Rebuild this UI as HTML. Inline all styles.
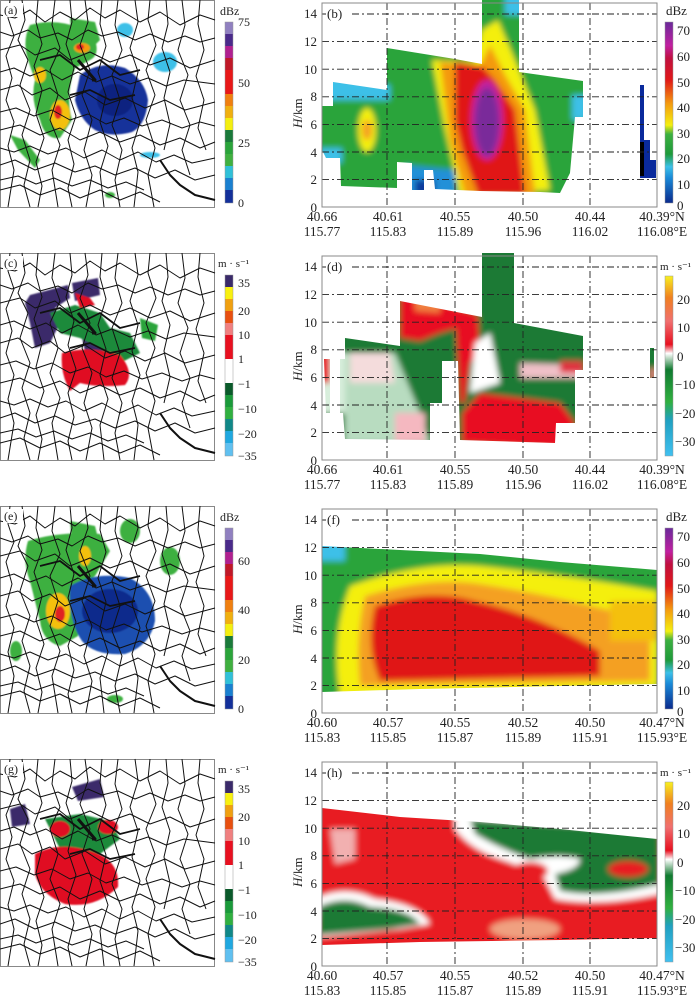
<!DOCTYPE html>
<html><head><meta charset="utf-8"><style>
html,body{margin:0;padding:0;background:#fff}
svg{display:block}
text{font-family:"Liberation Serif",serif;fill:#222}
</style></head><body>
<svg width="700" height="1001" viewBox="0 0 700 1001" xmlns="http://www.w3.org/2000/svg">
<defs>
<filter id="bl" x="-10%" y="-10%" width="120%" height="120%"><feGaussianBlur stdDeviation="3"/></filter>
<filter id="bl2" x="-10%" y="-10%" width="120%" height="120%"><feGaussianBlur stdDeviation="0.8"/></filter>
<linearGradient id="gz" x1="0" y1="1" x2="0" y2="0">
<stop offset="0" stop-color="#0a2a8c"/><stop offset="0.14" stop-color="#1a8ad8"/><stop offset="0.2" stop-color="#3cc0e8"/>
<stop offset="0.27" stop-color="#1e9a3a"/><stop offset="0.38" stop-color="#3cb040"/><stop offset="0.43" stop-color="#f4ef10"/>
<stop offset="0.55" stop-color="#f49a10"/><stop offset="0.68" stop-color="#e01818"/><stop offset="0.8" stop-color="#c01040"/>
<stop offset="0.87" stop-color="#c020a0"/><stop offset="1" stop-color="#6a2a9a"/></linearGradient>
<linearGradient id="gv" x1="0" y1="1" x2="0" y2="0">
<stop offset="0" stop-color="#40c0f0"/><stop offset="0.2" stop-color="#20a0c0"/><stop offset="0.3" stop-color="#30b040"/>
<stop offset="0.48" stop-color="#107a30"/><stop offset="0.57" stop-color="#ffffff"/><stop offset="0.62" stop-color="#e81020"/>
<stop offset="0.75" stop-color="#f07070"/><stop offset="0.88" stop-color="#f08020"/><stop offset="1" stop-color="#f8f020"/></linearGradient>
<g id="cbz">
<rect x="225" y="22" width="8" height="12" fill="#9080c0"/>
<rect x="225" y="34" width="8" height="12" fill="#4a2a8a"/>
<rect x="225" y="46" width="8" height="12" fill="#b02090"/>
<rect x="225" y="58" width="8" height="12" fill="#c01828"/>
<rect x="225" y="70" width="8" height="24" fill="#e81818"/>
<rect x="225" y="94" width="8" height="12" fill="#f08010"/>
<rect x="225" y="106" width="8" height="12" fill="#f0b010"/>
<rect x="225" y="118" width="8" height="12" fill="#f4ef10"/>
<rect x="225" y="130" width="8" height="12" fill="#1a7a3a"/>
<rect x="225" y="142" width="8" height="12" fill="#2aa43a"/>
<rect x="225" y="154" width="8" height="12" fill="#40b040"/>
<rect x="225" y="166" width="8" height="12" fill="#30c0d8"/>
<rect x="225" y="178" width="8" height="12" fill="#1a80d0"/>
<rect x="225" y="190" width="8" height="13" fill="#13309a"/>
<rect x="225" y="22" width="8" height="181" fill="none" stroke="#999" stroke-width="0.5"/>
</g>
<g id="cbv">
<rect x="225" y="22" width="8" height="12" fill="#3a2a6a"/>
<rect x="225" y="34" width="8" height="12" fill="#f8f010"/>
<rect x="225" y="46" width="8" height="12" fill="#f0a010"/>
<rect x="225" y="58" width="8" height="12" fill="#e85010"/>
<rect x="225" y="70" width="8" height="12" fill="#f08080"/>
<rect x="225" y="82" width="8" height="24" fill="#e81020"/>
<rect x="225" y="106" width="8" height="24" fill="#ffffff"/>
<rect x="225" y="130" width="8" height="12" fill="#0a5a2a"/>
<rect x="225" y="142" width="8" height="12" fill="#1a9a3a"/>
<rect x="225" y="154" width="8" height="12" fill="#30b040"/>
<rect x="225" y="166" width="8" height="12" fill="#108888"/>
<rect x="225" y="178" width="8" height="12" fill="#20a8e0"/>
<rect x="225" y="190" width="8" height="13" fill="#60c0f0"/>
<rect x="225" y="22" width="8" height="181" fill="none" stroke="#999" stroke-width="0.5"/>
</g>
<g id="map">
<g fill="none" stroke="#111" stroke-width="1" stroke-linejoin="round">
<path d="M0,15 L15,18 L30,10 L45,22 L60,12 L75,20 L90,8 L105,18 L120,10 L140,22 L160,12 L180,25 L200,15 L215,20"/>
<path d="M0,32 L12,36 L28,30 L40,38 L58,33 L72,40 L88,30 L102,36 L118,32 L135,40 L150,34 L168,42 L185,36 L200,42 L215,38"/>
<path d="M0,50 L20,45 L35,55 L55,48 L70,60 L90,52 L110,62 L130,55 L150,65 L170,58 L190,68 L215,60"/>
<path d="M0,72 L14,68 L30,76 L46,70 L62,80 L78,72 L96,82 L112,76 L130,84 L148,78 L166,86 L184,80 L215,84"/>
<path d="M0,90 L18,85 L32,95 L50,88 L65,100 L85,92 L105,105 L125,98 L145,108 L165,100 L185,110 L215,102"/>
<path d="M0,112 L16,108 L34,116 L52,110 L70,120 L88,114 L106,124 L124,118 L142,126 L162,120 L182,128 L200,122 L215,126"/>
<path d="M0,130 L20,125 L40,135 L60,128 L80,140 L100,132 L120,142 L140,135 L160,145 L180,138 L200,148 L215,142"/>
<path d="M0,148 L14,152 L30,146 L48,154 L66,148 L84,158 L102,150 L120,160 L138,152 L156,162 L174,155 L192,163 L215,158"/>
<path d="M0,165 L15,160 L35,170 L55,163 L75,172 L95,166 L115,175 L135,168 L155,178 L175,170 L195,180 L215,175"/>
<path d="M0,180 L18,176 L36,184 L54,178 L72,186 L90,180 L108,188 L126,182 L144,190"/>
<path d="M0,190 L20,185 L40,195 L60,188 L80,198 L100,190 L120,200 L140,192 L160,202"/>
<path d="M10,0 L8,18 L14,36 L6,56 L12,78 L6,100 L14,122 L8,146 L14,170 L8,207"/>
<path d="M22,0 L25,20 L18,40 L28,60 L20,85 L30,110 L22,135 L30,160 L24,185 L30,207"/>
<path d="M38,0 L36,22 L42,44 L34,66 L42,90 L36,114 L44,138 L36,162 L42,186 L38,207"/>
<path d="M55,0 L52,25 L60,48 L50,70 L58,95 L50,120 L60,145 L52,170 L58,207"/>
<path d="M70,0 L72,22 L66,44 L74,68 L68,92 L76,116 L68,140 L74,164 L68,188 L72,207"/>
<path d="M85,0 L88,22 L80,45 L90,70 L82,95 L92,120 L84,150 L92,175 L86,207"/>
<path d="M102,0 L100,24 L106,46 L98,72 L106,96 L100,122 L108,146 L100,172 L104,207"/>
<path d="M118,0 L115,25 L122,50 L112,75 L120,100 L112,125 L122,150 L115,180 L120,207"/>
<path d="M135,0 L138,22 L130,48 L138,72 L132,98 L140,122 L132,148 L138,172 L134,207"/>
<path d="M150,0 L148,20 L156,45 L146,70 L155,95 L146,120 L155,148 L148,175 L154,207"/>
<path d="M166,0 L168,24 L162,48 L170,72 L164,98 L170,124 L164,150"/>
<path d="M182,0 L185,25 L178,50 L188,75 L180,100 L190,125 L182,150 L190,175"/>
<path d="M200,0 L198,24 L204,50 L196,76 L204,100 L198,128 L206,150"/>
<path d="M160,160 L170,175 L180,185 L195,195 L215,200" stroke-width="2"/>
<path d="M40,60 L60,55 L80,70 L100,60 L120,75 L140,70" stroke-width="1.8"/>
<path d="M70,95 L90,90 L110,100 L135,95" stroke-width="1.8"/>
<path d="M78,60 L95,80 L92,80" stroke-width="3"/>
</g>
</g>
</defs>

<!-- ============ LEFT MAPS ============ -->
<g>
<rect x="0.5" y="0.5" width="214" height="207" fill="#fff" stroke="#888"/>
<g filter="url(#bl2)">
<path d="M30,25 Q55,18 80,28 L95,40 Q100,55 90,60 L75,68 Q65,95 72,120 L60,138 Q45,140 40,120 Q30,100 35,80 L28,60 Q22,40 30,25Z" fill="#3cb040"/>
<path d="M70,18 L95,22 L100,40 L85,55 L72,45Z" fill="#3cb040"/>
<path d="M80,75 Q100,60 125,68 Q145,80 148,100 Q146,125 132,132 Q110,138 95,130 Q80,120 75,100Z" fill="#13309a"/>
<ellipse cx="115" cy="100" rx="18" ry="16" fill="#0a2080"/>
<ellipse cx="60" cy="115" rx="10" ry="15" fill="#f4c010"/>
<ellipse cx="58" cy="112" rx="4" ry="7" fill="#e02020"/>
<ellipse cx="82" cy="48" rx="8" ry="5" fill="#f49a10"/>
<ellipse cx="80" cy="47" rx="4" ry="3" fill="#e02020"/>
<ellipse cx="40" cy="75" rx="6" ry="8" fill="#f4c010"/>
<path d="M10,135 L25,140 L40,160 L35,168 L18,150Z" fill="#3cb040"/>
<ellipse cx="165" cy="62" rx="12" ry="10" fill="#3cc0e8"/>
<ellipse cx="125" cy="30" rx="8" ry="7" fill="#3cc0e8"/>
<ellipse cx="150" cy="155" rx="10" ry="3" fill="#3cc0e8"/>
<ellipse cx="110" cy="195" rx="5" ry="3" fill="#3cb040"/>
</g>
<use href="#map"/>
<rect x="3" y="3" width="20" height="14" fill="#fff"/>
<text x="4" y="14" font-size="12">(a)</text>
<use href="#cbz"/>
<text x="220" y="15" font-size="12">dBz</text>
<text x="238" y="26" font-size="12">75</text><text x="238" y="87" font-size="12">50</text>
<text x="238" y="147" font-size="12">25</text><text x="238" y="207" font-size="12">0</text>
</g>

<g transform="translate(0,253)">
<rect x="0.5" y="0.5" width="214" height="207" fill="#fff" stroke="#888"/>
<g filter="url(#bl2)">
<path d="M30,42 L68,32 L70,45 L55,55 L60,70 L50,90 L35,95 L30,70 L25,50Z" fill="#3a2a6a"/>
<path d="M72,30 L98,25 L100,42 L75,48Z" fill="#3a2a6a"/>
<path d="M82,85 L100,88 L105,100 L85,98Z" fill="#3a2a6a"/>
<path d="M50,60 L75,52 L100,60 L110,75 L130,80 L140,100 L120,110 L100,95 L80,85 L60,80Z" fill="#1a8a3a"/>
<path d="M140,65 L158,72 L155,88 L142,85Z" fill="#2aa43a"/>
<path d="M62,100 Q90,92 120,102 Q135,120 125,132 Q100,135 80,130 L70,138 Q60,120 62,100Z" fill="#e01020"/>
<path d="M75,40 L90,45 L95,52 L80,55Z" fill="#e01020"/>
</g>
<use href="#map"/>
<rect x="3" y="3" width="20" height="14" fill="#fff"/>
<text x="4" y="14" font-size="12">(c)</text>
<use href="#cbv"/>
<text x="218" y="14" font-size="11">m · s⁻¹</text>
<text x="238" y="34" font-size="12">35</text><text x="238" y="62" font-size="12">20</text>
<text x="238" y="86" font-size="12">10</text><text x="238" y="110" font-size="12">1</text>
<text x="238" y="135" font-size="12">−1</text><text x="238" y="160" font-size="12">−10</text>
<text x="238" y="185" font-size="12">−20</text><text x="238" y="207" font-size="12">−35</text>
</g>

<g transform="translate(0,506)">
<rect x="0.5" y="0.5" width="214" height="207" fill="#fff" stroke="#888"/>
<g filter="url(#bl2)">
<path d="M28,35 Q60,25 100,28 L110,45 L95,70 L80,80 L78,130 L60,140 Q42,135 40,115 Q35,95 30,75 Q22,55 28,35Z" fill="#3cb040"/>
<path d="M70,15 L95,20 L100,40 L72,40Z" fill="#3cb040"/>
<path d="M70,80 Q95,65 130,72 Q155,85 155,115 Q150,140 125,148 Q95,150 82,135 Q68,115 70,80Z" fill="#1a50b0"/>
<ellipse cx="110" cy="105" rx="28" ry="22" fill="#0a2a8c"/>
<ellipse cx="58" cy="105" rx="12" ry="18" fill="#f4c010"/>
<ellipse cx="60" cy="108" rx="5" ry="8" fill="#e02020"/>
<ellipse cx="85" cy="50" rx="6" ry="10" fill="#f4c010"/>
<ellipse cx="130" cy="25" rx="10" ry="12" fill="#3cb040"/>
<ellipse cx="170" cy="55" rx="10" ry="14" fill="#3cb040"/>
<ellipse cx="16" cy="145" rx="6" ry="10" fill="#3cb040"/>
<ellipse cx="115" cy="193" rx="8" ry="4" fill="#3cb040"/>
</g>
<use href="#map"/>
<rect x="3" y="3" width="20" height="14" fill="#fff"/>
<text x="4" y="14" font-size="12">(e)</text>
<use href="#cbz"/>
<text x="220" y="15" font-size="12">dBz</text>
<text x="238" y="59" font-size="12">60</text><text x="238" y="108" font-size="12">40</text>
<text x="238" y="158" font-size="12">20</text><text x="238" y="207" font-size="12">0</text>
</g>

<g transform="translate(0,759)">
<rect x="0.5" y="0.5" width="214" height="207" fill="#fff" stroke="#888"/>
<g filter="url(#bl2)">
<path d="M72,28 L100,20 L104,38 L78,42Z" fill="#3a2a6a"/>
<path d="M10,50 L25,45 L30,65 L12,68Z" fill="#3a2a6a"/>
<path d="M45,60 L80,55 L110,62 L120,80 L100,95 L60,90Z" fill="#1a8a3a"/>
<path d="M35,95 Q60,82 90,92 Q120,100 118,128 Q95,150 65,145 Q40,135 35,115Z" fill="#e01020"/>
<ellipse cx="108" cy="68" rx="10" ry="7" fill="#e01020"/>
<ellipse cx="60" cy="70" rx="10" ry="8" fill="#e01020"/>
</g>
<use href="#map"/>
<rect x="3" y="3" width="20" height="14" fill="#fff"/>
<text x="4" y="14" font-size="12">(g)</text>
<use href="#cbv"/>
<text x="218" y="14" font-size="11">m · s⁻¹</text>
<text x="238" y="34" font-size="12">35</text><text x="238" y="62" font-size="12">20</text>
<text x="238" y="86" font-size="12">10</text><text x="238" y="110" font-size="12">1</text>
<text x="238" y="135" font-size="12">−1</text><text x="238" y="160" font-size="12">−10</text>
<text x="238" y="185" font-size="12">−20</text><text x="238" y="207" font-size="12">−35</text>
</g>

<!-- ============ RIGHT SECTIONS ============ -->
<g>
<clipPath id="cb"><path d="M322,106 L333,106 L333,82 L387,90 L387,48 L455,59 L482,64 L482,0 L519,0 L519,72 L583,81 L583,117 L575,117 L570,173 L560,193 L540,192 L480,191 L435,189 L433,170 L424,170 L424,190 L412,190 L412,163 L397,162 L397,188 L341,186 L340,158 L326,158 L322,150Z"/></clipPath>
<g clip-path="url(#cb)"><g filter="url(#bl)">
<rect x="300" y="-10" width="300" height="220" fill="#2aa43a"/>
<path d="M320,75 L390,85 L390,100 L320,100Z" fill="#3cc0e8"/>
<rect x="320" y="148" width="22" height="15" fill="#3cc0e8"/>
<path d="M405,165 L455,170 L455,195 L405,195Z" fill="#2090d8"/>
<rect x="415" y="180" width="20" height="15" fill="#0a3a9c"/>
<rect x="505" y="-5" width="20" height="20" fill="#3cc0e8"/>
<rect x="572" y="95" width="15" height="25" fill="#3cc0e8"/>
<ellipse cx="367" cy="130" rx="9" ry="22" fill="#f4ef10"/>
<ellipse cx="367" cy="130" rx="5" ry="10" fill="#f4a020"/>
<path d="M432,60 L475,62 L482,30 L498,20 L515,60 L535,110 L550,190 L460,195 L445,130Z" fill="#f4ef10"/>
<path d="M440,62 L480,66 L490,45 L505,75 L525,110 L535,195 L465,195 L450,140Z" fill="#f49a10"/>
<path d="M455,62 L482,66 L495,80 L515,110 L525,195 L478,195 L462,150 L455,120Z" fill="#e01818"/>
<ellipse cx="487" cy="120" rx="16" ry="40" fill="#c020a0"/>
<ellipse cx="487" cy="122" rx="12" ry="34" fill="#7a2a9a"/>
</g></g>
<path d="M640,85 L644,85 L644,140 L650,140 L650,160 L656,160 L656,178 L640,178Z" fill="#0a2a9c"/>
<rect x="640" y="142" width="4" height="34" fill="#000"/>
</g>
<g transform="translate(0,253)">
<clipPath id="cd"><path d="M324,106 L330,106 L330,160 L326,160Z M340,106 L345,106 L345,85 L400,93 L400,48 L482,64 L482,0 L514,0 L514,70 L583,83 L583,117 L575,117 L575,170 L556,170 L555,190 L460,187 L458,108 L442,108 L442,150 L430,150 L430,187 L345,186 L343,160 L340,160Z M650,95 L654,95 L654,125 L650,125Z"/></clipPath>
<g clip-path="url(#cd)"><g filter="url(#bl)">
<rect x="300" y="-10" width="360" height="220" fill="#1a7a35"/>
<rect x="320" y="100" width="30" height="60" fill="#d8eedc"/>
<rect x="320" y="100" width="10" height="30" fill="#e81020"/>
<path d="M345,100 L395,100 L420,160 L430,190 L345,190Z" fill="#b8dcc0"/>
<path d="M350,100 L390,100 L395,130 L350,130Z" fill="#f4dcdc"/>
<rect x="395" y="160" width="30" height="30" fill="#f5b8c0"/>
<path d="M400,40 L475,60 L475,70 L440,80 L420,88 L400,85Z" fill="#e81020"/>
<path d="M415,44 L440,48 L440,60 L415,58Z" fill="#f08040"/>
<path d="M455,60 L478,62 L480,100 L470,110 L465,150 L460,150Z" fill="#e81020"/>
<path d="M462,190 L462,160 L480,140 L520,145 L560,150 L575,170 L560,195Z" fill="#e81020"/>
<path d="M475,90 L490,80 L500,130 L470,140Z" fill="#ffffff"/>
<path d="M520,110 L583,112 L583,125 L520,125Z" fill="#f0c0c8"/>
<path d="M560,108 L583,108 L583,120 L560,120Z" fill="#e03040"/>
<rect x="650" y="115" width="5" height="12" fill="#f08080"/>
</g></g>
</g>
<g transform="translate(0,506)">
<clipPath id="cf"><path d="M322,40 L400,44 L480,48 L560,56 L657,64 L657,178 L560,180 L420,183 L322,186Z"/></clipPath>
<g clip-path="url(#cf)"><g filter="url(#bl)">
<rect x="300" y="30" width="370" height="170" fill="#2aa43a"/>
<rect x="315" y="30" width="30" height="25" fill="#3cc0e8"/>
<path d="M350,80 Q420,55 480,60 Q560,68 657,85 L657,180 L340,190 Q330,130 350,80Z" fill="#f4ef10"/>
<path d="M365,90 Q430,70 480,78 Q560,90 650,115 L650,175 L360,180 Q355,130 365,90Z" fill="#f4a020"/>
<path d="M375,100 Q430,82 475,95 Q540,110 600,145 L600,170 L380,175 Q365,140 375,100Z" fill="#e01818"/>
<rect x="610" y="95" width="47" height="40" fill="#f4c010"/>
</g></g>
</g>
<g transform="translate(0,759)">
<clipPath id="ch"><path d="M322,49 L400,58 L480,63 L560,70 L657,80 L657,179 L560,181 L420,183 L322,186Z"/></clipPath>
<g clip-path="url(#ch)"><g filter="url(#bl)">
<rect x="300" y="40" width="370" height="160" fill="#e81a22"/>
<path d="M330,70 L355,70 L355,100 L335,105Z" fill="#f2b0b0"/>
<path d="M315,140 Q345,125 375,140 Q420,145 430,165 L400,170 L320,178Z" fill="#ffffff"/>
<path d="M318,148 Q345,135 370,148 Q410,150 420,165 L390,170 L318,176Z" fill="#1a7a35"/>
<path d="M455,55 L660,70 L660,135 Q600,148 555,140 L545,120 Q530,110 500,100 Q470,90 455,70Z" fill="#ffffff"/>
<path d="M470,60 L660,72 L660,125 Q600,140 560,132 L555,115 Q580,110 580,100 Q560,95 530,100 Q500,90 475,75Z" fill="#1a7a35"/>
<ellipse cx="530" cy="112" rx="18" ry="9" fill="#e81a22"/>
<ellipse cx="628" cy="110" rx="20" ry="8" fill="#e81a22"/>
<ellipse cx="525" cy="170" rx="35" ry="10" fill="#f0a080"/>
</g></g>
</g>

<g id="ax1">
<g stroke="#222" stroke-width="0.9" stroke-dasharray="7,3,2,3" fill="none">
<path d="M322,14H657 M322,41.6H657 M322,69.2H657 M322,96.8H657 M322,124.4H657 M322,152H657 M322,179.6H657"/>
<path d="M387,3V207 M455,3V207 M523,3V207 M590,3V207"/>
</g>
<rect x="322" y="3" width="335" height="204" fill="none" stroke="#888" stroke-width="1"/>
<g font-size="13" text-anchor="end">
<text x="317" y="212">0</text><text x="317" y="184">2</text><text x="317" y="157">4</text><text x="317" y="129">6</text>
<text x="317" y="101">8</text><text x="317" y="74">10</text><text x="317" y="46">12</text><text x="317" y="18">14</text>
</g>
<text transform="translate(302,128) rotate(-90)" font-size="13"><tspan font-style="italic">H</tspan>/km</text>
<rect x="326" y="7" width="24" height="14" fill="#fff"/>
</g>
<use href="#ax1" transform="translate(0,253)"/>
<use href="#ax1" transform="translate(0,506)"/>
<use href="#ax1" transform="translate(0,759)"/>

<g font-size="13">
<text x="327" y="18">(b)</text>
<text x="327" y="271">(d)</text>
<text x="327" y="524">(f)</text>
<text x="327" y="777">(h)</text>
</g>

<g font-size="13.5" text-anchor="middle">
<text x="322" y="221">40.66</text><text x="388" y="221">40.61</text><text x="455" y="221">40.55</text><text x="523" y="221">40.50</text><text x="590" y="221">40.44</text><text x="662" y="221">40.39°N</text>
<text x="322" y="236">115.77</text><text x="388" y="236">115.83</text><text x="455" y="236">115.89</text><text x="523" y="236">115.96</text><text x="590" y="236">116.02</text><text x="662" y="236">116.08°E</text>
<text x="322" y="474">40.66</text><text x="388" y="474">40.61</text><text x="455" y="474">40.55</text><text x="523" y="474">40.50</text><text x="590" y="474">40.44</text><text x="662" y="474">40.39°N</text>
<text x="322" y="489">115.77</text><text x="388" y="489">115.83</text><text x="455" y="489">115.89</text><text x="523" y="489">115.96</text><text x="590" y="489">116.02</text><text x="662" y="489">116.08°E</text>
<text x="322" y="727">40.60</text><text x="388" y="727">40.57</text><text x="455" y="727">40.55</text><text x="523" y="727">40.52</text><text x="590" y="727">40.50</text><text x="662" y="727">40.47°N</text>
<text x="322" y="742">115.83</text><text x="388" y="742">115.85</text><text x="455" y="742">115.87</text><text x="523" y="742">115.89</text><text x="590" y="742">115.91</text><text x="662" y="742">115.93°E</text>
<text x="322" y="980">40.60</text><text x="388" y="980">40.57</text><text x="455" y="980">40.55</text><text x="523" y="980">40.52</text><text x="590" y="980">40.50</text><text x="662" y="980">40.47°N</text>
<text x="322" y="995">115.83</text><text x="388" y="995">115.85</text><text x="455" y="995">115.87</text><text x="523" y="995">115.89</text><text x="590" y="995">115.91</text><text x="662" y="995">115.93°E</text>
</g>

<g font-size="13">
<rect x="665" y="22" width="8" height="181" fill="url(#gz)" stroke="#999" stroke-width="0.5"/>
<text x="666" y="15">dBz</text>
<text x="677" y="35">70</text><text x="677" y="61">60</text><text x="677" y="87">50</text><text x="677" y="112">40</text>
<text x="677" y="138">30</text><text x="677" y="163">20</text><text x="677" y="189">10</text><text x="677" y="210">0</text>
</g>
<g font-size="13" transform="translate(0,253)">
<rect x="665" y="23" width="8" height="180" fill="url(#gv)" stroke="#999" stroke-width="0.5"/>
<text x="660" y="17" font-size="11">m · s⁻¹</text>
<text x="677" y="51">20</text><text x="677" y="79">10</text><text x="677" y="108">0</text>
<text x="675" y="136">−10</text><text x="675" y="165">−20</text><text x="675" y="193">−30</text>
</g>
<g font-size="13" transform="translate(0,506)">
<rect x="665" y="22" width="8" height="181" fill="url(#gz)" stroke="#999" stroke-width="0.5"/>
<text x="666" y="15">dBz</text>
<text x="677" y="35">70</text><text x="677" y="61">60</text><text x="677" y="87">50</text><text x="677" y="112">40</text>
<text x="677" y="138">30</text><text x="677" y="163">20</text><text x="677" y="189">10</text><text x="677" y="210">0</text>
</g>
<g font-size="13" transform="translate(0,759)">
<rect x="665" y="23" width="8" height="180" fill="url(#gv)" stroke="#999" stroke-width="0.5"/>
<text x="660" y="17" font-size="11">m · s⁻¹</text>
<text x="677" y="51">20</text><text x="677" y="79">10</text><text x="677" y="108">0</text>
<text x="675" y="136">−10</text><text x="675" y="165">−20</text><text x="675" y="193">−30</text>
</g>
</svg>
</body></html>
